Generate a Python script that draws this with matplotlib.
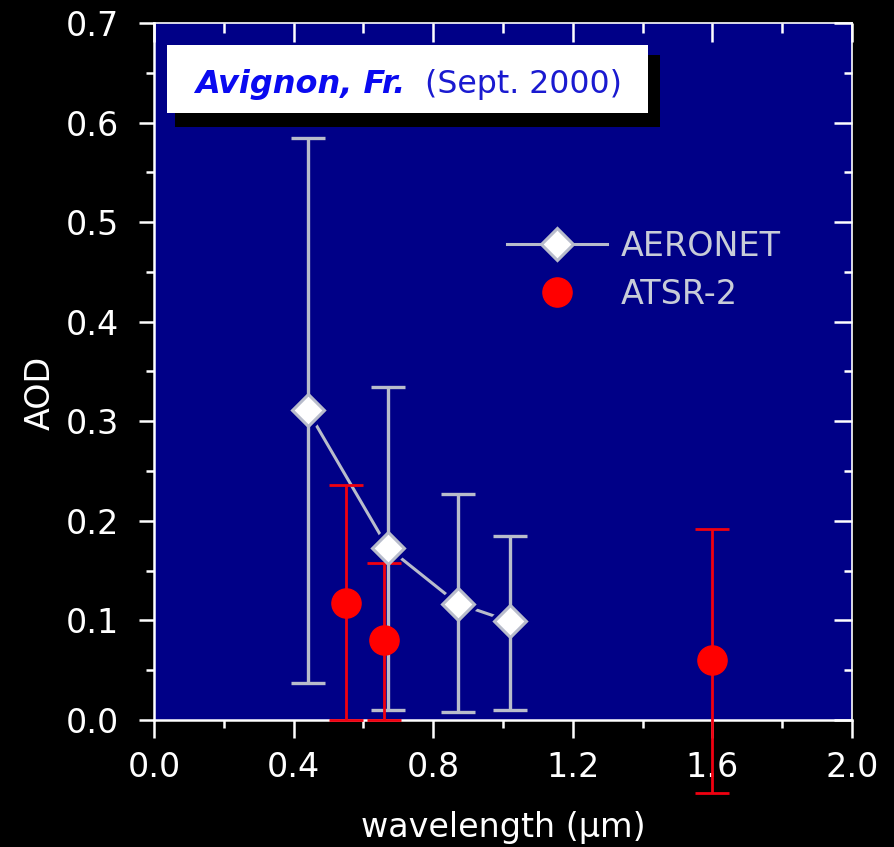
import matplotlib
matplotlib.use("Agg")
import matplotlib.pyplot as plt
from matplotlib.ticker import MultipleLocator, FormatStrFormatter
from matplotlib.patches import Rectangle
from matplotlib.lines import Line2D

# ---- data ----
aeronet_wl = [0.44, 0.67, 0.87, 1.02]
aeronet_aod = [0.311, 0.173, 0.117, 0.099]
aeronet_lo = [0.037, 0.010, 0.008, 0.010]
aeronet_hi = [0.585, 0.334, 0.227, 0.185]

atsr_wl = [0.55, 0.66, 1.60]
atsr_aod = [0.118, 0.080, 0.060]
atsr_lo = [0.000, 0.000, -0.073]
atsr_hi = [0.236, 0.158, 0.192]

labels = ["AERONET", "ATSR-2"]
title_site = "Avignon, Fr."
title_date = "(Sept. 2000)"

NAVY = "#000087"
GRAY = "#b8bccb"
RED = "#f00010"
FS = 24

plt.rcParams["font.family"] = ["DejaVu Sans"]

fig = plt.figure(figsize=(8.94, 8.47), dpi=100, facecolor="black")
ax = fig.add_axes([154/894, 1-720/847, 698/894, 697/847])
ax.set_facecolor(NAVY)
ax.set_xlim(0, 2.0)
ax.set_ylim(0, 0.7)

# AERONET connecting line, with gaps around markers
ax.plot(aeronet_wl, aeronet_aod, color=GRAY, lw=2.2, zorder=2)
ax.plot(aeronet_wl, aeronet_aod, ls="none", marker="D", ms=22, mfc=NAVY, mec=NAVY, zorder=2.5)

# error bars
a_yerr = [[v - l for v, l in zip(aeronet_aod, aeronet_lo)], [h - v for v, h in zip(aeronet_aod, aeronet_hi)]]
ax.errorbar(aeronet_wl, aeronet_aod, yerr=a_yerr, fmt="none", ecolor=GRAY, elinewidth=2.4,
            capsize=12.5, capthick=2.4, zorder=3)
r_yerr = [[v - l for v, l in zip(atsr_aod, atsr_lo)], [h - v for v, h in zip(atsr_aod, atsr_hi)]]
eb = ax.errorbar(atsr_wl, atsr_aod, yerr=r_yerr, fmt="none", ecolor=RED, elinewidth=2.0,
                 capsize=12, capthick=2.0, zorder=3.5)
for cap in eb.lines[1]:
    cap.set_clip_on(False)
for coll in eb.lines[2]:
    coll.set_clip_on(False)

# markers
ax.plot(atsr_wl, atsr_aod, ls="none", marker="o", ms=21, mfc="#ff0000", mec="#ff0000", zorder=4)
ax.plot(aeronet_wl, aeronet_aod, ls="none", marker="D", ms=16, mfc="white", mec=GRAY, mew=2.2, zorder=5)

# axes styling
for s in ["left", "bottom"]:
    ax.spines[s].set_color("white")
    ax.spines[s].set_linewidth(1.8)
for s in ["top", "right"]:
    ax.spines[s].set_color("white")
    ax.spines[s].set_linewidth(1.2)

ax.xaxis.set_major_locator(MultipleLocator(0.4))
ax.xaxis.set_minor_locator(MultipleLocator(0.2))
ax.yaxis.set_major_locator(MultipleLocator(0.1))
ax.yaxis.set_minor_locator(MultipleLocator(0.05))
ax.xaxis.set_major_formatter(FormatStrFormatter("%.1f"))
ax.yaxis.set_major_formatter(FormatStrFormatter("%.1f"))

ax.tick_params(axis="x", which="major", direction="out", length=13, width=1.8, color="white",
               labelcolor="white", labelsize=FS, pad=9.5)
ax.tick_params(axis="x", which="minor", direction="out", length=6, width=1.8, color="white")
ax.tick_params(axis="y", which="major", direction="out", length=11, width=1.8, color="white",
               labelcolor="white", labelsize=FS, pad=14)
ax.tick_params(axis="y", which="minor", direction="out", length=6, width=1.8, color="white")

top = ax.secondary_xaxis("top")
top.xaxis.set_major_locator(MultipleLocator(0.4))
top.xaxis.set_minor_locator(MultipleLocator(0.2))
top.tick_params(which="major", direction="in", length=14, width=1.8, color="white", labeltop=False)
top.tick_params(which="minor", direction="in", length=7, width=1.8, color="white")
top.spines["top"].set_visible(False)

right = ax.secondary_yaxis("right")
right.yaxis.set_major_locator(MultipleLocator(0.1))
right.yaxis.set_minor_locator(MultipleLocator(0.05))
right.tick_params(which="major", direction="in", length=13, width=1.8, color="white", labelright=False)
right.tick_params(which="minor", direction="in", length=6, width=1.8, color="white")
right.spines["right"].set_visible(False)

ax.set_xlabel("wavelength (\u03bcm)", color="white", fontsize=FS, labelpad=19)
ax.set_ylabel("AOD", color="white", fontsize=FS)
ax.yaxis.set_label_coords(-0.14, 0.47)

# title box with shadow
ax.add_patch(Rectangle((0.030, 0.851), 0.695, 0.103, transform=ax.transAxes, facecolor="black",
                       edgecolor="none", zorder=6, clip_on=False))
ax.add_patch(Rectangle((0.0186, 0.871), 0.6894, 0.097, transform=ax.transAxes, facecolor="white",
                       edgecolor="none", zorder=7, clip_on=False))
ax.text(0.0587, 0.8996, title_site, transform=ax.transAxes, fontsize=23, fontweight="bold",
        fontstyle="italic", color="#0a0af0", va="baseline", ha="left", zorder=8)
ax.text(0.388, 0.8996, title_date, transform=ax.transAxes, fontsize=22.7, color="#1a1ad0",
        va="baseline", ha="left", zorder=8)

# legend
h1 = Line2D([], [], color=GRAY, lw=2.2, marker="D", ms=16, mfc="white", mec=GRAY, mew=2.2)
h2 = Line2D([], [], ls="none", marker="o", ms=21, mfc="#ff0000", mec="#ff0000")
leg = ax.legend([h1, h2], labels, loc="upper left", bbox_to_anchor=(0.506, 0.703), frameon=False,
                fontsize=FS, labelcolor="#c8ccd8", handlelength=3.0, handletextpad=0.42,
                labelspacing=0.45, borderpad=0, borderaxespad=0)
leg.set_zorder(9)

fig.savefig("out.png", dpi=100, facecolor="black")
